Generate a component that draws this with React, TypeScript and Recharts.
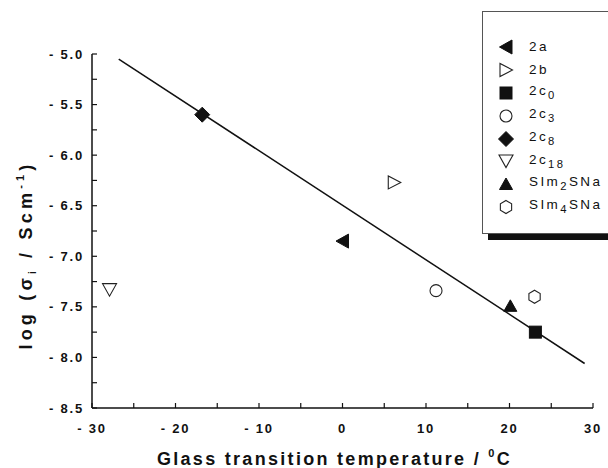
import React from "react";
import { ScatterChart, Scatter, XAxis, YAxis, ReferenceLine } from "recharts";

// axis ticks (minor ticks every 5 °C / 0.25, labels on majors)
const xTicks = [-30, -25, -20, -15, -10, -5, 0, 5, 10, 15, 20, 25, 30];
const xLabelled = [-30, -20, -10, 0, 10, 20, 30];
const yTicks = [-8.5, -8.25, -8, -7.75, -7.5, -7.25, -7, -6.75, -6.5, -6.25, -6, -5.75, -5.5, -5.25, -5];
const yLabelled = [-8.5, -8, -7.5, -7, -6.5, -6, -5.5, -5];

// measured points: Tg (°C) vs log conductivity
const pts2a = [{ x: 0, y: -6.85 }];
const pts2b = [{ x: 6.2, y: -6.27 }];
const pts2c0 = [{ x: 23.1, y: -7.75 }];
const pts2c3 = [{ x: 11.2, y: -7.34 }];
const pts2c8 = [{ x: -16.8, y: -5.6 }];
const pts2c18 = [{ x: -27.9, y: -7.33 }];
const ptsSIm2 = [{ x: 20.1, y: -7.49 }];
const ptsSIm4 = [{ x: 23, y: -7.4 }];

// linear fit drawn across the data
const fitLine = [
  { x: -26.8, y: -5.05 },
  { x: 29.0, y: -8.06 },
];

const FONT = "'Liberation Sans', Arial, Helvetica, sans-serif";

type Kind = "left" | "right" | "square" | "circle" | "diamond" | "down" | "up" | "hex";

function Marker({ kind, cx, cy }: { kind: Kind; cx: number; cy: number }) {
  const filled = { fill: "#111", stroke: "#111", strokeWidth: 1 };
  const open = { fill: "#fff", stroke: "#222", strokeWidth: 1.1 };
  const pts = (arr: number[][]) => arr.map((p) => `${cx + p[0]},${cy + p[1]}`).join(" ");
  switch (kind) {
    case "left":
      return <polygon points={pts([[-6.5, 0], [6, -7], [6, 7]])} {...filled} />;
    case "right":
      return <polygon points={pts([[6.5, 0], [-6, -6.5], [-6, 6.5]])} {...open} />;
    case "square":
      return <rect x={cx - 6} y={cy - 6} width={12} height={12} {...filled} />;
    case "circle":
      return <circle cx={cx} cy={cy} r={6} {...open} />;
    case "diamond":
      return <polygon points={pts([[0, -7.5], [7.5, 0], [0, 7.5], [-7.5, 0]])} {...filled} />;
    case "down":
      return <polygon points={pts([[-7, -6], [7, -6], [0, 6.5]])} {...open} />;
    case "up":
      return <polygon points={pts([[-6.5, 5.5], [6.5, 5.5], [0, -6]])} {...filled} />;
    case "hex": {
      const r = 6.5;
      const arr = [0, 1, 2, 3, 4, 5].map((i) => {
        const a = (Math.PI / 3) * i - Math.PI / 2;
        return [r * Math.cos(a), r * Math.sin(a)];
      });
      return <polygon points={pts(arr)} {...open} />;
    }
  }
  return null;
}

const shapeOf = (kind: Kind) => (p: any) => <Marker kind={kind} cx={p.cx} cy={p.cy} />;

const fmt = (v: number, digits: number) => (v < 0 ? "- " + Math.abs(v).toFixed(digits) : v.toFixed(digits));

const XTick = (props: any) => {
  const { x, y, payload } = props;
  if (!xLabelled.includes(payload.value)) return <g />;
  return (
    <text x={x} y={y} dy={10} textAnchor="middle" fontFamily={FONT} fontWeight="bold" fontSize={13} letterSpacing={1.8} fill="#111">
      {fmt(payload.value, 0)}
    </text>
  );
};

const YTick = (props: any) => {
  const { x, y, payload } = props;
  if (!yLabelled.includes(payload.value)) return <g />;
  return (
    <text x={x} y={y} dy={4.5} textAnchor="end" fontFamily={FONT} fontWeight="bold" fontSize={13} letterSpacing={1.8} fill="#111">
      {fmt(payload.value, 1)}
    </text>
  );
};

const XTitle = (props: any) => {
  const vb = props.viewBox;
  const cx = vb.x + vb.width / 2 - 8;
  return (
    <text x={cx} y={465} textAnchor="middle" fontFamily={FONT} fontWeight="bold" fontSize={18} letterSpacing={2.3} fill="#111">
      Glass transition temperature /{"  "}
      <tspan dy={-8} fontSize={11}>0</tspan>
      <tspan dy={8}>C</tspan>
    </text>
  );
};

const YTitle = () => {
  const cy = 255;
  const bx = 32;
  return (
    <text x={bx} y={cy} transform={`rotate(-90, ${bx}, ${cy})`} textAnchor="middle" fontFamily={FONT} fontWeight="bold" fontSize={18} letterSpacing={4.2} fill="#111">
      log (σ
      <tspan dy={4} fontSize={10}>i</tspan>
      <tspan dy={-4}> / Scm</tspan>
      <tspan dy={-8} fontSize={11}>-1</tspan>
      <tspan dy={8}>)</tspan>
    </text>
  );
};

const legendItems: { kind: Kind; label: React.ReactNode }[] = [
  { kind: "left", label: "2a" },
  { kind: "right", label: "2b" },
  { kind: "square", label: <>2c<sub>0</sub></> },
  { kind: "circle", label: <>2c<sub>3</sub></> },
  { kind: "diamond", label: <>2c<sub>8</sub></> },
  { kind: "down", label: <>2c<sub>18</sub></> },
  { kind: "up", label: <>SIm<sub>2</sub>SNa</> },
  { kind: "hex", label: <>SIm<sub>4</sub>SNa</> },
];

function LegendBox() {
  return (
    <div
      style={{
        position: "absolute",
        left: 482,
        top: 11,
        width: 126,
        height: 223,
        background: "#fff",
        borderTop: "1px solid #555",
        borderLeft: "1px solid #555",
        borderBottom: "1px solid #555",
        boxShadow: "6px 6px 0 #111",
        boxSizing: "border-box",
        paddingTop: 24,
        fontFamily: FONT,
        fontSize: 13.5,
        letterSpacing: 2.4,
        color: "#111",
      }}
    >
      {legendItems.map((it, i) => (
        <div key={i} style={{ display: "flex", alignItems: "center", height: 22.8 }}>
          <svg width={46} height={20} style={{ flex: "none" }}>
            <Marker kind={it.kind} cx={23} cy={10} />
          </svg>
          <span style={{ lineHeight: "14px", whiteSpace: "nowrap" }}>{it.label}</span>
        </div>
      ))}
    </div>
  );
}

export default function App() {
  return (
    <div style={{ position: "absolute", left: 0, top: 0, width: 608, height: 468, background: "#fff", overflow: "hidden" }}>
      <ScatterChart width={608} height={468} margin={{ top: 54, right: 15, bottom: 0, left: 0 }}>
        <XAxis
          xAxisId="b"
          type="number"
          dataKey="x"
          domain={[-30, 30]}
          ticks={xTicks}
          interval={0}
          height={60}
          tickSize={-5}
          tickMargin={20}
          tick={<XTick />}
          axisLine={{ stroke: "#111", strokeWidth: 1.5 }}
          tickLine={{ stroke: "#111", strokeWidth: 1.2 }}
          label={<XTitle />}
          allowDataOverflow
        />
        <XAxis
          xAxisId="t"
          orientation="top"
          type="number"
          dataKey="x"
          domain={[-30, 30]}
          ticks={xTicks}
          interval={0}
          height={0}
          tickSize={-5}
          tick={false}
          axisLine={{ stroke: "#111", strokeWidth: 1.5 }}
          tickLine={{ stroke: "#111", strokeWidth: 1.2 }}
          allowDataOverflow
        />
        <YAxis
          yAxisId="l"
          type="number"
          dataKey="y"
          domain={[-8.5, -5]}
          ticks={yTicks}
          interval={0}
          width={92}
          tickSize={-5}
          tickMargin={13}
          tick={<YTick />}
          axisLine={{ stroke: "#111", strokeWidth: 1.5 }}
          tickLine={{ stroke: "#111", strokeWidth: 1.2 }}
          label={<YTitle />}
          allowDataOverflow
        />
        <YAxis
          yAxisId="r"
          orientation="right"
          type="number"
          dataKey="y"
          domain={[-8.5, -5]}
          ticks={yTicks}
          interval={0}
          width={0}
          tickSize={-5}
          tick={false}
          axisLine={{ stroke: "#111", strokeWidth: 1.5 }}
          tickLine={{ stroke: "#111", strokeWidth: 1.2 }}
          allowDataOverflow
        />
        <ReferenceLine
          xAxisId="b"
          yAxisId="l"
          segment={fitLine}
          stroke="#111"
          strokeWidth={1.5}
          ifOverflow="visible"
        />
        <Scatter xAxisId="b" yAxisId="l" name="2a" data={pts2a} shape={shapeOf("left")} isAnimationActive={false} />
        <Scatter xAxisId="b" yAxisId="l" name="2b" data={pts2b} shape={shapeOf("right")} isAnimationActive={false} />
        <Scatter xAxisId="b" yAxisId="l" name="2c0" data={pts2c0} shape={shapeOf("square")} isAnimationActive={false} />
        <Scatter xAxisId="b" yAxisId="l" name="2c3" data={pts2c3} shape={shapeOf("circle")} isAnimationActive={false} />
        <Scatter xAxisId="b" yAxisId="l" name="2c8" data={pts2c8} shape={shapeOf("diamond")} isAnimationActive={false} />
        <Scatter xAxisId="b" yAxisId="l" name="2c18" data={pts2c18} shape={shapeOf("down")} isAnimationActive={false} />
        <Scatter xAxisId="b" yAxisId="l" name="SIm2SNa" data={ptsSIm2} shape={shapeOf("up")} isAnimationActive={false} />
        <Scatter xAxisId="b" yAxisId="l" name="SIm4SNa" data={ptsSIm4} shape={shapeOf("hex")} isAnimationActive={false} />
      </ScatterChart>
      <LegendBox />
    </div>
  );
}
